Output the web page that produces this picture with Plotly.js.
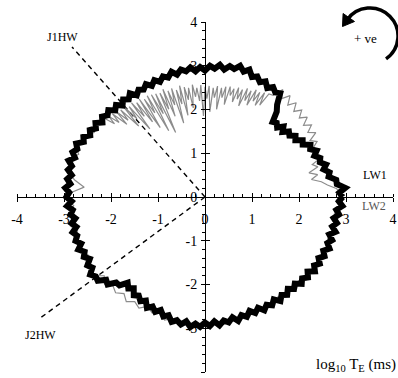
<!DOCTYPE html>
<html>
<head>
<meta charset="utf-8">
<script src="https://cdn.plot.ly/plotly-3.0.1.min.js"></script>
<style>html,body{margin:0;padding:0;background:#fff;}#chart{width:398px;height:378px;}</style>
</head>
<body>
<div id="chart"></div>
<script>
// Black series: polar angle (deg) and radius (log10 T_E units), 2 deg steps 0..360
const blackR = [2.93,2.86,2.99,2.82,2.82,2.67,2.71,2.60,2.68,2.57,
  2.61,2.51,2.60,2.49,2.54,2.40,2.45,2.32,2.38,2.28,
  2.33,2.22,2.32,2.21,2.28,2.24,2.48,2.61,2.86,2.82,
  2.90,2.82,2.94,2.87,2.97,2.92,3.06,2.98,3.09,2.99,
  3.04,2.94,3.04,2.94,3.00,2.89,2.97,2.88,2.98,2.90,
  2.96,2.86,2.95,2.84,2.90,2.80,2.88,2.78,2.87,2.78,
  2.83,2.74,2.86,2.76,2.83,2.73,2.83,2.75,2.86,2.79,
  2.86,2.77,2.88,2.80,2.89,2.82,2.93,2.87,3.00,2.93,
  3.00,2.91,3.02,2.92,2.98,2.88,2.96,2.88,2.98,2.89,
  2.95,2.84,2.94,2.83,2.89,2.80,2.90,2.82,2.93,2.86,
  2.93,2.84,2.95,2.85,2.92,2.83,2.95,2.89,3.02,2.95,
  2.98,2.83,2.88,2.72,2.72,2.56,2.65,2.58,2.71,2.66,
  2.75,2.68,2.82,2.74,2.83,2.75,2.87,2.81,2.94,2.88,
  2.96,2.87,2.99,2.90,2.97,2.87,2.95,2.85,2.95,2.85,
  2.91,2.81,2.92,2.81,2.88,2.77,2.86,2.77,2.88,2.79,
  2.86,2.76,2.87,2.77,2.84,2.74,2.83,2.75,2.86,2.78,
  2.86,2.77,2.89,2.80,2.88,2.79,2.88,2.80,2.90,2.81,
  2.88,2.78,2.89,2.79,2.87,2.78,2.88,2.81,2.93,2.85,
  2.93];
const blackTheta = blackR.map((_, i) => i * 2);

// Grey series
const greyTheta = [0,2,4,6,8,10,12,14,16,18,20,22,24,26,28,30,32,34,36,38,40,42,44,46,48,50,52,54,56,58,
  60,61,62,63,64,65,66,67,68,69,70,71,72,73,74,75,76,77,78,79,80,81,82,83,84,85,86,87,88,89,
  90,91,92,93,94,95,96,97,98,99,100,101,102,103,104,105,106,107,108,109,110,111,112,113,114,115,116,117,118,119,
  120,121,122,123,124,125,126,127,128,129,130,131,132,133,134,135,136,137,138,139,140,
  142,145,148,151,154,157,160,163,166,169,172,175,178,181,184,187,190,193,196,199,202,205,208,211,214,217,220,223,226,229,
  232,235,238,241,244,247,250,253,256,259,262,265,268,271,274,277,280,283,286,289,292,295,298,301,304,307,310,313,316,319,
  322,325,328,331,334,337,340,343,346,349,352,355,358,360];
const greyR = [2.84,2.90,2.80,2.62,2.50,2.30,2.45,2.28,2.50,2.40,2.62,2.50,2.66,2.56,2.70,2.58,2.78,2.64,2.80,2.66,2.84,2.70,2.86,2.72,2.90,2.74,2.94,2.78,2.96,2.74,
  2.72,2.40,2.70,2.35,2.66,2.42,2.68,2.28,2.62,2.36,2.64,2.20,2.58,2.34,2.60,2.25,2.55,2.38,2.58,2.15,2.56,2.30,2.52,2.02,2.55,2.28,2.50,1.95,2.54,2.25,
  2.52,1.85,2.56,2.20,2.50,2.30,2.58,2.05,2.52,2.25,2.55,1.90,2.60,2.18,2.52,1.75,2.58,2.20,2.55,1.95,2.62,2.15,2.56,1.60,2.58,2.10,2.60,1.70,2.62,2.20,
  2.58,1.85,2.64,2.05,2.60,2.25,2.66,1.95,2.62,2.30,2.70,2.15,2.68,2.40,2.72,2.35,2.74,2.50,2.76,2.55,2.80,
  2.74,2.86,2.78,2.92,2.84,2.98,2.86,2.99,2.88,2.97,2.80,2.58,2.86,2.95,2.80,2.92,2.78,2.94,2.82,2.95,2.80,2.93,2.82,2.95,2.86,2.99,2.80,2.92,2.82,2.90,
  2.80,2.92,2.82,2.90,2.78,2.88,2.82,2.94,2.86,2.98,2.88,3.00,2.90,2.98,2.86,2.94,2.84,2.92,2.80,2.90,2.78,2.88,2.77,2.87,2.76,2.86,2.75,2.86,2.76,2.87,
  2.78,2.90,2.80,2.90,2.80,2.90,2.78,2.88,2.76,2.86,2.78,2.90,2.80,2.84];

// Reference directions (endpoints in data units)
const j1hwX = [0, -2.83], j1hwY = [0, 3.43];
const j2hwX = [0, -3.51], j2hwY = [0, -2.77];

const tickVals = [-4,-3,-2,-1,0,1,2,3,4];
const tickText = ['-4','-3','-2','-1','0','1','2','3','4'];

function toXY(th, r) {
  const x = [], y = [];
  for (let i = 0; i < th.length; i++) {
    const a = th[i] * Math.PI / 180;
    x.push(r[i] * Math.cos(a));
    y.push(r[i] * Math.sin(a));
  }
  return {x, y};
}
const g = toXY(greyTheta, greyR);
const b = toXY(blackTheta, blackR);

const FONT = 'Liberation Serif, Times New Roman, serif';

const traces = [
  {x: j1hwX, y: j1hwY, mode: 'lines', line: {color: '#000', width: 1.4, dash: '5px,4px'}, hoverinfo: 'skip'},
  {x: j2hwX, y: j2hwY, mode: 'lines', line: {color: '#000', width: 1.4, dash: '5px,4px'}, hoverinfo: 'skip'},
  {x: g.x, y: g.y, mode: 'lines', line: {color: '#8c8c8c', width: 1.2}, hoverinfo: 'skip'},
  {x: b.x, y: b.y, mode: 'lines', line: {color: '#000', width: 6}, hoverinfo: 'skip'},
  {x: [0], y: [0], xaxis: 'x2', yaxis: 'y2', mode: 'markers', marker: {opacity: 0}, hoverinfo: 'skip'}
];

const axisCommon = {
  range: [-4, 4], showgrid: false, zeroline: false,
  showline: true, linecolor: '#000', linewidth: 1,
  tickmode: 'array', tickvals: tickVals, ticktext: tickText,
  ticks: 'outside', ticklen: 4, tickwidth: 1, tickcolor: '#000',
  tickfont: {family: FONT, size: 14, color: '#000'},
  anchor: 'free', position: 0.5, domain: [0, 1], fixedrange: true
};

const layout = {
  width: 398, height: 378,
  margin: {l: 17, r: 5, t: 22, b: 6},
  paper_bgcolor: '#fff', plot_bgcolor: '#fff',
  showlegend: false,
  xaxis: Object.assign({}, axisCommon, {
    ticklabelstandoff: 5,
    minor: {ticks: 'inside', ticklen: 3, dtick: 0.2, tickcolor: '#000', tickwidth: 1}
  }),
  yaxis: Object.assign({}, axisCommon, {
    ticklabelstandoff: 1,
    minor: {ticks: 'outside', ticklen: 3, dtick: 0.2, tickcolor: '#000', tickwidth: 1}
  }),
  xaxis2: {range: [-4, 4], overlaying: 'x', anchor: 'free', position: 0.5, domain: [0,1],
    showgrid: false, zeroline: false, showline: false, showticklabels: false,
    tickmode: 'array', tickvals: tickVals, ticks: 'inside', ticklen: 4, tickcolor: '#000', fixedrange: true},
  yaxis2: {range: [-4, 4], overlaying: 'y', anchor: 'free', position: 0.5, domain: [0,1],
    showgrid: false, zeroline: false, showline: false, showticklabels: false,
    tickmode: 'array', tickvals: tickVals, ticks: 'inside', ticklen: 4, tickcolor: '#000', fixedrange: true},
  annotations: [
    {x: -3.04, y: 3.66, text: 'J1HW', showarrow: false, xanchor: 'center', yanchor: 'middle', font: {family: FONT, size: 12, color: '#000'}},
    {x: -3.49, y: -3.16, text: 'J2HW', showarrow: false, xanchor: 'center', yanchor: 'middle', font: {family: FONT, size: 12, color: '#000'}},
    {x: 3.62, y: 0.5, text: 'LW1', showarrow: false, xanchor: 'center', yanchor: 'middle', font: {family: FONT, size: 12, color: '#000'}},
    {x: 3.6, y: -0.2, text: 'LW2', showarrow: false, xanchor: 'center', yanchor: 'middle', font: {family: FONT, size: 12, color: '#555'}},
    {xref: 'paper', yref: 'paper', x: 0.928, y: 0.954, xanchor: 'center', yanchor: 'middle', text: '+ ve', showarrow: false, font: {family: FONT, size: 13, color: '#000'}},
    {xref: 'paper', yref: 'paper', x: 1.012, y: 0.02, xanchor: 'right', yanchor: 'middle', text: 'log<sub>10</sub> T<sub>E</sub> (ms)', showarrow: false, font: {family: FONT, size: 15, color: '#000'}}
  ],
  shapes: [
    {type: 'path', xref: 'paper', yref: 'paper',
     path: 'M 0.8778 1.0059 C 0.9044 1.0466 0.9588 1.0517 0.9915 1.0166 C 1.0242 0.9814 1.0195 0.9230 0.9815 0.8945',
     line: {color: '#000', width: 3.5}},
    {type: 'path', xref: 'paper', yref: 'paper',
     path: 'M 0.8657 0.9871 L 0.8976 1.0014 L 0.8673 1.0243 Z',
     fillcolor: '#000', line: {color: '#000', width: 1}}
  ]
};

Plotly.newPlot('chart', traces, layout, {staticPlot: true, displayModeBar: false});
</script>
</body>
</html>
